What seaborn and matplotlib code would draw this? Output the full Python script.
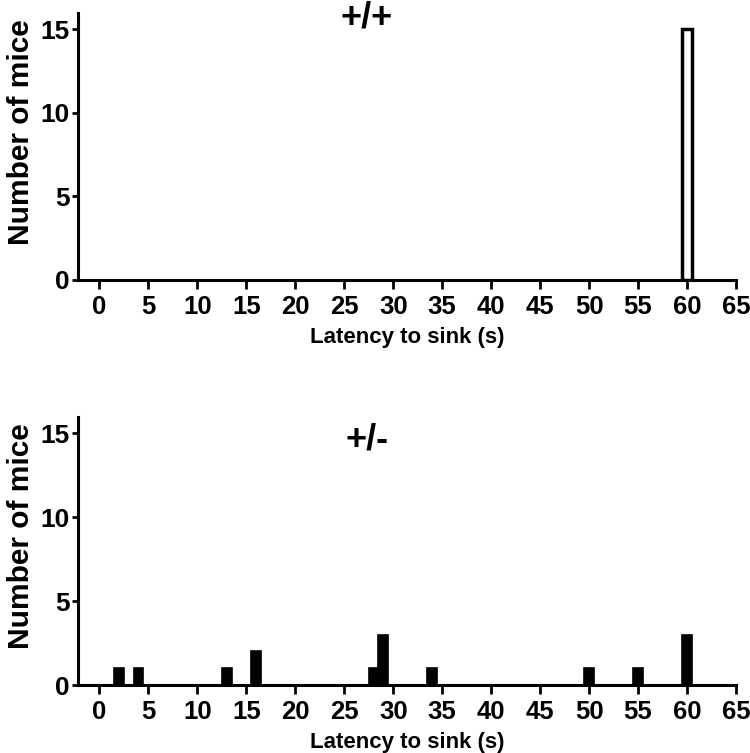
import pandas as pd
import matplotlib
matplotlib.use("Agg")
import matplotlib.pyplot as plt
import seaborn as sns

# === Daten ===
wt_latency = [60]
wt_mice = [15]

het_latency = [2, 4, 13, 16, 28, 29, 34, 50, 55, 60]
het_mice = [1, 1, 1, 2, 1, 3, 1, 1, 1, 3]

x_ticks = list(range(0, 70, 5))
y_ticks = [0, 5, 10, 15]

df_wt = pd.DataFrame({"latency": wt_latency, "mice": wt_mice})
df_het = pd.DataFrame({"latency": het_latency, "mice": het_mice})

# === Stil ===
sns.set_style("ticks", {"axes.edgecolor": "black", "text.color": "black",
                        "xtick.color": "black", "ytick.color": "black",
                        "axes.labelcolor": "black"})
plt.rcParams["font.family"] = ["Liberation Sans", "DejaVu Sans"]
plt.rcParams["font.weight"] = "bold"
plt.rcParams["axes.linewidth"] = 2.2

fig = plt.figure(figsize=(7.5, 7.53), dpi=100)
ax_top = fig.add_axes([0.1044, 0.6282, 0.8769, 0.3549])
ax_bot = fig.add_axes([0.1044, 0.0903, 0.8769, 0.3563])

sns.histplot(data=df_wt, x="latency", weights="mice", discrete=True, shrink=1,
             color="white", edgecolor="black", linewidth=2.5, alpha=1, ax=ax_top)
sns.histplot(data=df_het, x="latency", weights="mice", discrete=True, shrink=1,
             color="black", edgecolor="black", linewidth=1.2, alpha=1, ax=ax_bot)

for ax, title, ty in [(ax_top, "+/+", 15.7), (ax_bot, "+/-", 14.6)]:
    ax.set_xlim(-2.15, 65)
    ax.set_ylim(0, 16)
    ax.set_xticks(x_ticks)
    ax.set_yticks(y_ticks)
    ax.tick_params(axis="x", length=6.5, width=2, pad=4, labelsize=18.5)
    ax.tick_params(axis="y", length=4, width=2, pad=2, labelsize=19)
    for lab in ax.get_xticklabels() + ax.get_yticklabels():
        lab.set_fontweight("bold")
    ax.set_xlabel("Latency to sink (s)", fontsize=16, fontweight="bold", labelpad=6)
    ax.set_ylabel("Number of mice", fontsize=21.5, fontweight="bold")
    ax.yaxis.set_label_coords(-0.066, 0.555)
    ax.text(27.3, ty, title, fontsize=26, fontweight="bold", ha="center", va="center")
    sns.despine(ax=ax)

fig.savefig("out.png", dpi=100)
